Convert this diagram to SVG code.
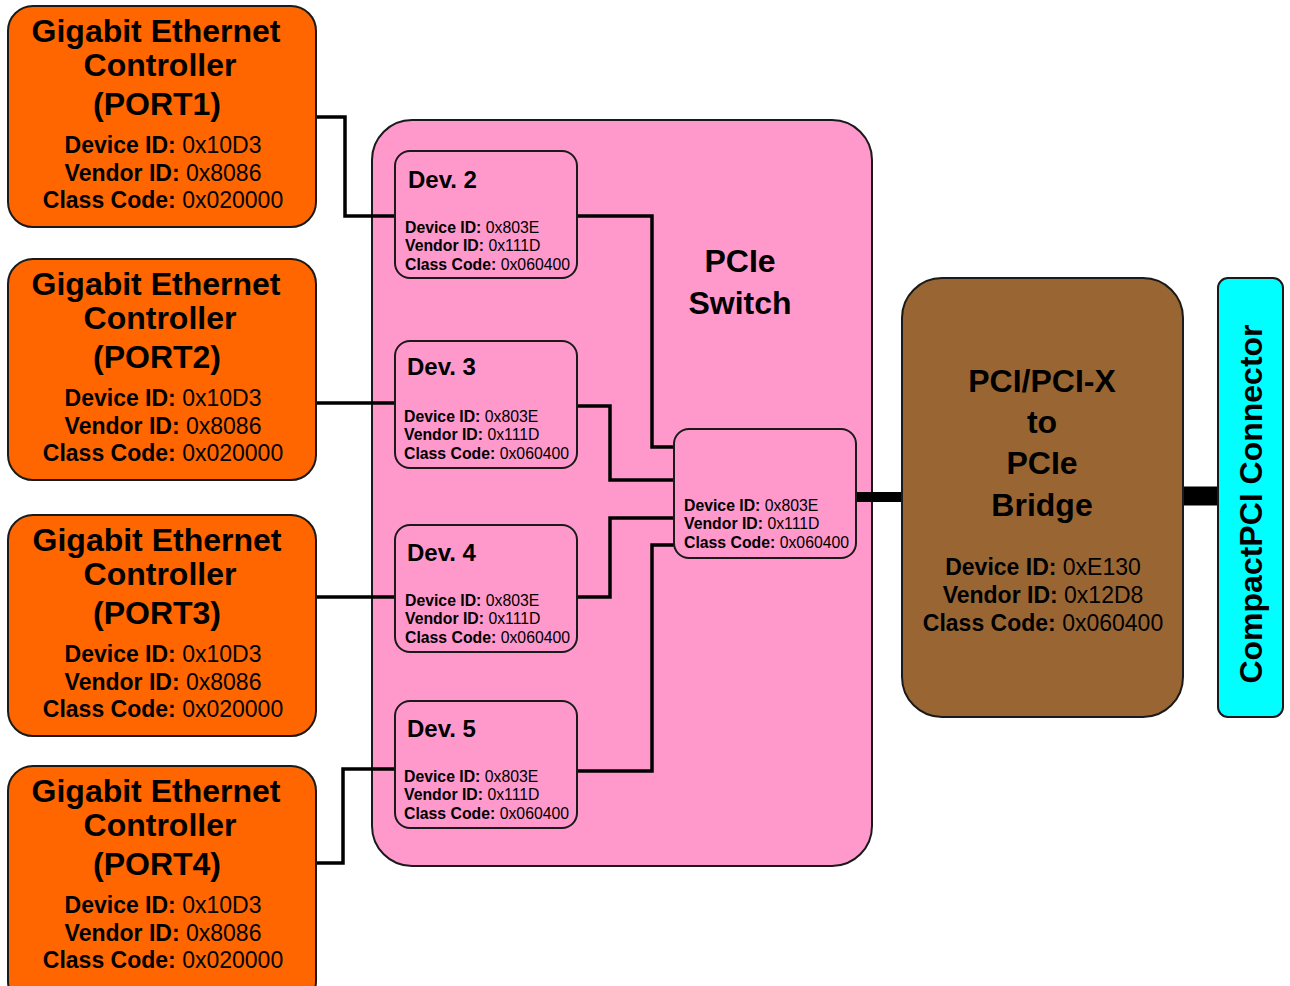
<svg xmlns="http://www.w3.org/2000/svg" width="1290" height="986" viewBox="0 0 1290 986">
<style>
text{font-family:"Liberation Sans",Arial,sans-serif;fill:#000}
.b{font-weight:bold}
.orange{fill:#FF6600;stroke:#1a1a1a;stroke-width:2}
.pink{fill:#FF99CC;stroke:#1a1a1a;stroke-width:2}
.brown{fill:#996633;stroke:#1a1a1a;stroke-width:2}
.cyan{fill:#00FFFF;stroke:#1a1a1a;stroke-width:2}
.t1{font-size:32px;font-weight:bold;text-anchor:middle}
.t2{font-size:23px;text-anchor:middle}
.dt{font-size:24px;font-weight:bold}
.ds{font-size:15.8px}
.w{stroke:#000;stroke-width:3.5;fill:none}
</style>
<rect width="1290" height="986" fill="#fff"/>

<g id="switch">
<rect class="pink" x="372" y="120" width="500" height="746" rx="40"/>
<text class="t1" x="740" y="272" font-size="34">PCIe</text>
<text class="t1" x="740" y="314" font-size="34">Switch</text>
</g>

<g id="connectors">
<polyline class="w" points="316,117 345,117 345,216 395,216"/>
<polyline class="w" points="316,403 395,403"/>
<polyline class="w" points="316,597 395,597"/>
<polyline class="w" points="316,863 343,863 343,769 395,769"/>
<polyline class="w" points="577,216 652,216 652,447 674,447"/>
<polyline class="w" points="577,406 610,406 610,480 674,480"/>
<polyline class="w" points="577,597 610,597 610,518 674,518"/>
<polyline class="w" points="577,771 652,771 652,545 674,545"/>
<line x1="855" y1="497" x2="904" y2="497" stroke="#000" stroke-width="10"/>
<line x1="1182" y1="496" x2="1219" y2="496" stroke="#000" stroke-width="19"/>
</g>

<g id="port1">
<rect class="orange" x="8" y="6" width="308" height="221" rx="25"/>
<text class="t1" x="156" y="42">Gigabit Ethernet</text>
<text class="t1" x="160" y="76">Controller</text>
<text class="t1" x="157" y="115">(PORT1)</text>
<text class="t2" x="163" y="153"><tspan class="b">Device ID:</tspan> 0x10D3</text>
<text class="t2" x="163" y="181"><tspan class="b">Vendor ID:</tspan> 0x8086</text>
<text class="t2" x="163" y="208"><tspan class="b">Class Code:</tspan> 0x020000</text>
</g>
<g id="port2">
<rect class="orange" x="8" y="259" width="308" height="221" rx="25"/>
<text class="t1" x="156" y="295">Gigabit Ethernet</text>
<text class="t1" x="160" y="329">Controller</text>
<text class="t1" x="157" y="368">(PORT2)</text>
<text class="t2" x="163" y="406"><tspan class="b">Device ID:</tspan> 0x10D3</text>
<text class="t2" x="163" y="434"><tspan class="b">Vendor ID:</tspan> 0x8086</text>
<text class="t2" x="163" y="461"><tspan class="b">Class Code:</tspan> 0x020000</text>
</g>
<g id="port3">
<rect class="orange" x="8" y="515" width="308" height="221" rx="25"/>
<text class="t1" x="157" y="551">Gigabit Ethernet</text>
<text class="t1" x="160" y="585">Controller</text>
<text class="t1" x="157" y="624">(PORT3)</text>
<text class="t2" x="163" y="662"><tspan class="b">Device ID:</tspan> 0x10D3</text>
<text class="t2" x="163" y="690"><tspan class="b">Vendor ID:</tspan> 0x8086</text>
<text class="t2" x="163" y="717"><tspan class="b">Class Code:</tspan> 0x020000</text>
</g>
<g id="port4">
<rect class="orange" x="8" y="766" width="308" height="240" rx="25"/>
<text class="t1" x="156" y="802">Gigabit Ethernet</text>
<text class="t1" x="160" y="836">Controller</text>
<text class="t1" x="157" y="875">(PORT4)</text>
<text class="t2" x="163" y="913"><tspan class="b">Device ID:</tspan> 0x10D3</text>
<text class="t2" x="163" y="941"><tspan class="b">Vendor ID:</tspan> 0x8086</text>
<text class="t2" x="163" y="968"><tspan class="b">Class Code:</tspan> 0x020000</text>
</g>

<g id="dev2">
<rect class="pink" x="395" y="151" width="182" height="127" rx="15"/>
<text class="dt" x="408" y="188">Dev. 2</text>
<text class="ds" x="405" y="233"><tspan class="b">Device ID:</tspan> 0x803E</text>
<text class="ds" x="405" y="251"><tspan class="b">Vendor ID:</tspan> 0x111D</text>
<text class="ds" x="405" y="270"><tspan class="b">Class Code:</tspan> 0x060400</text>
</g>
<g id="dev3">
<rect class="pink" x="395" y="341" width="182" height="127" rx="15"/>
<text class="dt" x="407" y="375">Dev. 3</text>
<text class="ds" x="404" y="422"><tspan class="b">Device ID:</tspan> 0x803E</text>
<text class="ds" x="404" y="440"><tspan class="b">Vendor ID:</tspan> 0x111D</text>
<text class="ds" x="404" y="459"><tspan class="b">Class Code:</tspan> 0x060400</text>
</g>
<g id="dev4">
<rect class="pink" x="395" y="525" width="182" height="127" rx="15"/>
<text class="dt" x="407" y="561">Dev. 4</text>
<text class="ds" x="405" y="606"><tspan class="b">Device ID:</tspan> 0x803E</text>
<text class="ds" x="405" y="624"><tspan class="b">Vendor ID:</tspan> 0x111D</text>
<text class="ds" x="405" y="643"><tspan class="b">Class Code:</tspan> 0x060400</text>
</g>
<g id="dev5">
<rect class="pink" x="395" y="701" width="182" height="127" rx="15"/>
<text class="dt" x="407" y="737">Dev. 5</text>
<text class="ds" x="404" y="782"><tspan class="b">Device ID:</tspan> 0x803E</text>
<text class="ds" x="404" y="800"><tspan class="b">Vendor ID:</tspan> 0x111D</text>
<text class="ds" x="404" y="819"><tspan class="b">Class Code:</tspan> 0x060400</text>
</g>
<g id="upstream">
<rect class="pink" x="674" y="429" width="182" height="129" rx="15"/>
<text class="ds" x="684" y="511"><tspan class="b">Device ID:</tspan> 0x803E</text>
<text class="ds" x="684" y="529"><tspan class="b">Vendor ID:</tspan> 0x111D</text>
<text class="ds" x="684" y="548"><tspan class="b">Class Code:</tspan> 0x060400</text>
</g>

<g id="bridge">
<rect class="brown" x="902" y="278" width="281" height="439" rx="40"/>
<text class="t1" x="1042" y="392" font-size="34">PCI/PCI-X</text>
<text class="t1" x="1042" y="433" font-size="34">to</text>
<text class="t1" x="1042" y="474" font-size="34">PCIe</text>
<text class="t1" x="1042" y="516" font-size="34">Bridge</text>
<text class="t2" x="1043" y="575"><tspan class="b">Device ID:</tspan> 0xE130</text>
<text class="t2" x="1043" y="603"><tspan class="b">Vendor ID:</tspan> 0x12D8</text>
<text class="t2" x="1043" y="631"><tspan class="b">Class Code:</tspan> 0x060400</text>
</g>

<g id="connector">
<rect class="cyan" x="1218" y="278" width="65" height="439" rx="10"/>
<text class="t1" transform="translate(1262,504) rotate(-90)" x="0" y="0">CompactPCI Connector</text>
</g>
</svg>
